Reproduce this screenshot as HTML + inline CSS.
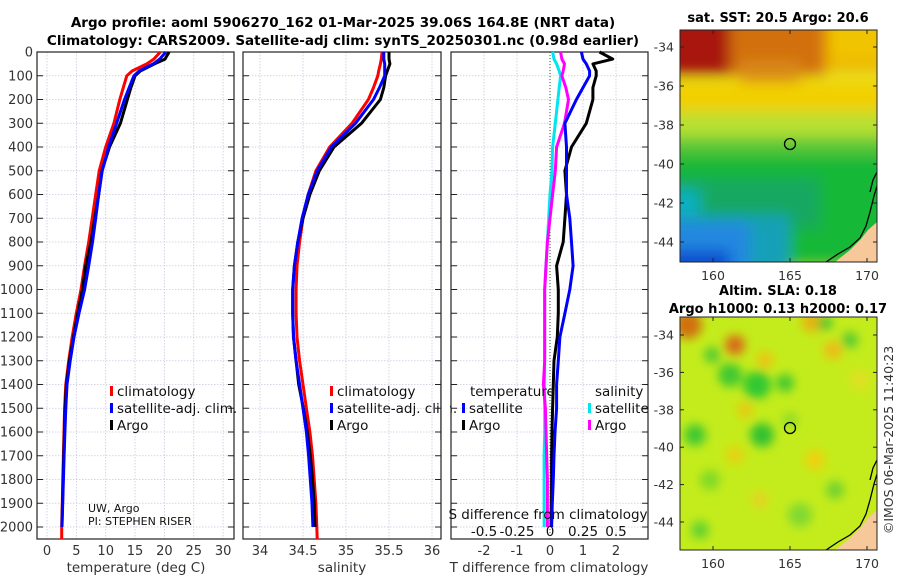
<!DOCTYPE html>
<html><head><meta charset="utf-8"><style>
body{margin:0;background:#fff;}
svg{display:block;font-family:"DejaVu Sans","Liberation Sans",sans-serif;}
</style></head><body>
<svg id="fig" width="900" height="580" viewBox="0 0 900 580">
<defs>
<filter id="blur1" x="-20%" y="-20%" width="140%" height="140%"><feGaussianBlur stdDeviation="7"/></filter>
<filter id="blur2" x="-20%" y="-20%" width="140%" height="140%"><feGaussianBlur stdDeviation="5"/></filter>
<clipPath id="clipM1"><rect x="680" y="30" width="197" height="232"/></clipPath>
<clipPath id="clipM2"><rect x="680" y="317" width="197" height="233"/></clipPath>
</defs>
<text x="343" y="27" text-anchor="middle" font-size="13.5" font-weight="bold">Argo profile: aoml 5906270_162 01-Mar-2025 39.06S 164.8E (NRT data)</text>
<text x="343" y="45" text-anchor="middle" font-size="13.5" font-weight="bold">Climatology: CARS2009. Satellite-adj clim: synTS_20250301.nc (0.98d earlier)</text>
<g id="panels"></g>

<!-- Map 1 -->
<g>
<text x="778" y="22" text-anchor="middle" font-size="13" font-weight="bold">sat. SST: 20.5 Argo: 20.6</text>
<g clip-path="url(#clipM1)">
<rect x="680" y="30" width="197" height="232" fill="#e8e020"/>
<g filter="url(#blur1)">
<rect x="660" y="10" width="240" height="60" fill="#eeb000"/>
<rect x="660" y="10" width="165" height="65" fill="#d27010"/>
<rect x="740" y="60" width="60" height="25" fill="#d88818"/>
<rect x="660" y="10" width="70" height="65" fill="#a81808"/>
<rect x="830" y="10" width="60" height="50" fill="#f0c400"/>
<rect x="660" y="82" width="240" height="30" fill="#f2d000"/>
<rect x="660" y="112" width="240" height="25" fill="#b8e030"/>
<rect x="660" y="137" width="240" height="20" fill="#58c838"/>
<rect x="660" y="155" width="240" height="110" fill="#18b838"/>
<rect x="660" y="178" width="160" height="50" fill="#14a860"/>
<rect x="660" y="190" width="40" height="40" fill="#10b0c0"/>
<rect x="660" y="215" width="130" height="60" fill="#18a0b8"/>
<rect x="660" y="222" width="90" height="50" fill="#2088e0"/>
<rect x="660" y="250" width="70" height="25" fill="#1050d0"/>
</g>
<polygon points="835,262 850,250 860,240 868,230 877,222 877,262" fill="#f7c89a"/>
<polyline points="826,262 838,254 850,247 860,238 866,226 870,212 874,196 877,186" fill="none" stroke="#000" stroke-width="1.3"/>
<polyline points="870,192 873,180 877,172" fill="none" stroke="#000" stroke-width="1.3"/>
<circle cx="790" cy="144" r="5.5" fill="none" stroke="#000" stroke-width="1.3"/>
</g>
<rect x="680" y="30" width="197" height="232" fill="none" stroke="#222" stroke-width="1"/>
<g id="m1ticks" font-size="12.5" fill="#333"></g>
</g>

<!-- Map 2 -->
<g>
<text x="778" y="295" text-anchor="middle" font-size="13" font-weight="bold">Altim. SLA: 0.18</text>
<text x="778" y="313" text-anchor="middle" font-size="13" font-weight="bold">Argo h1000: 0.13 h2000: 0.17</text>
<g clip-path="url(#clipM2)">
<rect x="680" y="317" width="197" height="233" fill="#c4ec1c"/>
<g filter="url(#blur2)">
<circle cx="688" cy="325" r="14" fill="#d07010"/>
<circle cx="735" cy="345" r="10" fill="#d86818"/>
<circle cx="812" cy="322" r="10" fill="#e8b010"/>
<circle cx="833" cy="350" r="9" fill="#f0b818"/>
<circle cx="765" cy="360" r="8" fill="#f0c010"/>
<circle cx="757" cy="385" r="14" fill="#30c830"/>
<circle cx="730" cy="375" r="12" fill="#40c830"/>
<circle cx="712" cy="355" r="8" fill="#50c830"/>
<circle cx="785" cy="383" r="9" fill="#40c830"/>
<circle cx="850" cy="340" r="8" fill="#50c830"/>
<circle cx="825" cy="323" r="7" fill="#40c030"/>
<circle cx="695" cy="435" r="11" fill="#40c830"/>
<circle cx="762" cy="435" r="12" fill="#30c030"/>
<circle cx="735" cy="455" r="9" fill="#e8d010"/>
<circle cx="745" cy="410" r="8" fill="#e8c810"/>
<circle cx="815" cy="460" r="10" fill="#f0d010"/>
<circle cx="760" cy="500" r="8" fill="#e8d020"/>
<circle cx="710" cy="480" r="10" fill="#80d828"/>
<circle cx="700" cy="530" r="9" fill="#60d030"/>
<circle cx="800" cy="515" r="12" fill="#80d830"/>
<circle cx="835" cy="490" r="9" fill="#70d030"/>
<circle cx="860" cy="380" r="10" fill="#e0e020"/>
<circle cx="790" cy="420" r="8" fill="#90dc28"/>
</g>
<polygon points="835,550 850,538 860,528 868,518 877,510 877,550" fill="#f7c89a"/>
<polyline points="826,550 838,542 850,535 860,526 866,514 870,500 874,484 877,474" fill="none" stroke="#000" stroke-width="1.3"/>
<polyline points="870,480 873,468 877,460" fill="none" stroke="#000" stroke-width="1.3"/>
<circle cx="790" cy="428" r="5.5" fill="none" stroke="#000" stroke-width="1.3"/>
</g>
<rect x="680" y="317" width="197" height="233" fill="none" stroke="#222" stroke-width="1"/>
<g id="m2ticks" font-size="12.5" fill="#333"></g>
</g>
<text transform="translate(893,440) rotate(-90)" text-anchor="middle" font-size="12.5" fill="#333">©IMOS 06-Mar-2025 11:40:23</text>
</svg>
<script>
// ---- data ----
const depths   = [0,30,50,80,100,150,200,300,400,500,600,700,800,900,1000,1100,1200,1300,1400,1500,1600,1700,1800,1900,2000];
const climT    = [19.3,18.2,17,14.5,13.6,13.0,12.4,11.4,10.0,8.9,8.3,7.7,7.1,6.4,5.8,5.0,4.3,3.7,3.2,3.0,2.9,2.8,2.7,2.6,2.5];
const climS    = [35.42,35.41,35.40,35.38,35.37,35.32,35.26,35.07,34.81,34.65,34.56,34.50,34.46,34.43,34.42,34.42,34.43,34.46,34.50,34.54,34.58,34.61,34.63,34.65,34.66];
const satTdiff = [0.95,1.0,1.1,1.2,1.2,1.0,0.8,0.45,0.5,0.5,0.5,0.6,0.65,0.7,0.6,0.45,0.3,0.25,0.2,0.2,0.15,0.12,0.1,0.07,0.05];
const argoTdiff= [1.5,1.9,1.3,1.4,1.4,1.3,1.3,1.1,0.65,0.45,0.5,0.45,0.4,0.2,0.25,0.25,0.22,0.12,0.1,0.08,0.06,0.05,0.05,0.04,0.03];
const satSdiff = [0.02,0.03,0.05,0.07,0.08,0.07,0.06,0.04,0.02,0.015,0.0,-0.01,-0.02,-0.03,-0.04,-0.04,-0.04,-0.04,-0.04,-0.04,-0.04,-0.045,-0.045,-0.045,-0.045];
const argoSdiff= [0.08,0.09,0.11,0.10,0.09,0.12,0.14,0.11,0.05,0.04,0.02,0.0,-0.02,-0.03,-0.04,-0.04,-0.04,-0.04,-0.05,-0.035,-0.03,-0.025,-0.02,-0.02,-0.02];
const depthTicks = [0,100,200,300,400,500,600,700,800,900,1000,1100,1200,1300,1400,1500,1600,1700,1800,1900,2000];
const tTicks = [0,5,10,15,20,25,30];
const sTicks = [34,34.5,35,35.5,36];
const sTickLabels = ["34","34.5","35","35.5","36"];
const dTTicks = [-2,-1,0,1,2];
const dSTicks = [-0.5,-0.25,0,0.25,0.5];
const dSTickLabels = ["-0.5","-0.25","0","0.25","0.5"];
const latTicks = [-34,-36,-38,-40,-42,-44];
const lonTicks = [160,165,170];

const NS='http://www.w3.org/2000/svg';
function mk(tag,attrs,parent){const e=document.createElementNS(NS,tag);for(const k in attrs)e.setAttribute(k,attrs[k]);if(parent)parent.appendChild(e);return e;}
const root=document.getElementById('panels');
const TOP=52,BOT=539;
const yD=d=>TOP+d*0.2375;
const xT=v=>47+v*5.87;
const xS=v=>260+(v-34)*86;
const xDT=v=>550+v*33;
const xDS=v=>550+v*132;
const panels=[[37,234],[243,441],[451,648]];

const argoT=climT.map((v,i)=>v+argoTdiff[i]);
const satT=climT.map((v,i)=>v+satTdiff[i]);
const argoS=climS.map((v,i)=>v+argoSdiff[i]);
const satS=climS.map((v,i)=>v+satSdiff[i]);

function grid(pi,xs,xf){
  const [x0,x1]=panels[pi];
  const g=mk('g',{},root);
  
  
  depthTicks.forEach(d=>{mk('line',{x1:x0,x2:x1,y1:yD(d),y2:yD(d),stroke:'#c8c8e0','stroke-width':0.8,'stroke-dasharray':'1.5,1.5'},g);
    mk('line',{x1:x0,x2:x0+6,y1:yD(d),y2:yD(d),stroke:'#222','stroke-width':1},g);
    mk('line',{x1:x1-6,x2:x1,y1:yD(d),y2:yD(d),stroke:'#222','stroke-width':1},g);});
  xs.forEach(v=>{const x=xf(v);mk('line',{x1:x,x2:x,y1:TOP,y2:BOT,stroke:'#c8c8e0','stroke-width':0.8,'stroke-dasharray':'1.5,1.5'},g);});
  const fr=mk('rect',{x:x0,y:TOP,width:x1-x0,height:BOT-TOP,fill:'none',stroke:'#222','stroke-width':1.2},root);
  
  
}
function line(vals,xf,color,name){
  const pts=vals.map((v,i)=>xf(v).toFixed(1)+','+yD(depths[i]).toFixed(1)).join(' ');
  const p=mk('polyline',{points:pts,fill:'none',stroke:color,'stroke-width':3,'stroke-linejoin':'round'},root);
  
  
  return p;
}
function txt(x,y,s,opts,name){
  const t=mk('text',Object.assign({x:x,y:y,'font-size':13,fill:'#333'},opts||{}),root);
  t.textContent=s;
  
  
  return t;
}
function legend(x,y,color,label,name){
  const r=mk('rect',{x:x,y:y-10,width:3,height:10,fill:color},root);
  
  
  txt(x+7,y,label,{'font-size':13.5,fill:'#111'},name);
}

// Panel 1
grid(0,tTicks,xT);
const lr1=line(climT,xT,'#ff0000','temperature-climatology-line');
lr1.setAttribute('points',lr1.getAttribute('points')+' '+xT(climT[climT.length-1]).toFixed(1)+','+BOT);
line(argoT,xT,'#000','temperature-argo-line');
line(satT,xT,'#0000ff','temperature-satellite-line');
depthTicks.forEach(d=>txt(33,yD(d)+4.5,String(d),{'text-anchor':'end'},'depth-tick-'+d));
tTicks.forEach(v=>txt(xT(v),555,String(v),{'text-anchor':'middle'},'temperature-tick-'+v));
txt(136,572,'temperature (deg C)',{'text-anchor':'middle','font-size':13.5},'temperature-axis-title');
legend(110,396,'#ff0000','climatology','legend-climatology-1');
legend(110,413,'#0000ff','satellite-adj. clim.','legend-satellite-1');
legend(110,430,'#000','Argo','legend-argo-1');
txt(88,512,'UW, Argo',{'font-size':11,fill:'#111'},'credit-line-1');
txt(88,525,'PI: STEPHEN RISER',{'font-size':11,fill:'#111'},'credit-line-2');

// Panel 2
grid(1,sTicks,xS);
const lr2=line(climS,xS,'#ff0000','salinity-climatology-line');
lr2.setAttribute('points',lr2.getAttribute('points')+' '+xS(climS[climS.length-1]+0.005).toFixed(1)+','+BOT);
line(argoS,xS,'#000','salinity-argo-line');
line(satS,xS,'#0000ff','salinity-satellite-line');
sTicks.forEach((v,i)=>txt(xS(v),555,sTickLabels[i],{'text-anchor':'middle'},'salinity-tick-'+i));
txt(342,572,'salinity',{'text-anchor':'middle','font-size':13.5},'salinity-axis-title');
legend(330,396,'#ff0000','climatology','legend-climatology-2');
legend(330,413,'#0000ff','satellite-adj. clim.','legend-satellite-2');
legend(330,430,'#000','Argo','legend-argo-2');
const cover=mk('rect',{x:441,y:380,width:9,height:60,fill:'#fff'},root);


mk('line',{x1:441,x2:441,y1:380,y2:440,stroke:'#222','stroke-width':1.2},root);

// Panel 3
grid(2,dTTicks,xDT);
const zl=mk('line',{x1:550,x2:550,y1:TOP,y2:BOT,stroke:'#335533','stroke-width':1,'stroke-dasharray':'1,2'},root);


line(satSdiff,xDS,'#00e5ee','salinity-satellite-diff-line');
line(argoSdiff,xDS,'#ff00ff','salinity-argo-diff-line');
line(argoTdiff,xDT,'#000','temperature-argo-diff-line');
line(satTdiff,xDT,'#0000ff','temperature-satellite-diff-line');
dTTicks.forEach(v=>txt(xDT(v),555,String(v),{'text-anchor':'middle'},'tdiff-tick-'+v));
txt(549,572,'T difference from climatology',{'text-anchor':'middle','font-size':13.5},'tdiff-axis-title');
txt(548,519,'S difference from climatology',{'text-anchor':'middle','font-size':13.5,fill:'#111'},'sdiff-axis-title');
dSTicks.forEach((v,i)=>txt(xDS(v),536,dSTickLabels[i],{'text-anchor':'middle','font-size':13.5,fill:'#111'},'sdiff-tick-'+i));
txt(470,396,'temperature',{'font-size':13.5,fill:'#111'},'legend-temperature-header');
legend(462,413,'#0000ff','satellite','legend-t-satellite');
legend(462,430,'#000','Argo','legend-t-argo');
txt(595,396,'salinity',{'font-size':13.5,fill:'#111'},'legend-salinity-header');
legend(588,413,'#00e5ee','satellite','legend-s-satellite');
legend(588,430,'#ff00ff','Argo','legend-s-argo');

// Map ticks
function mapTicks(gid,yTop,yBot,lat0y,dy,labY,pref){
  const g=document.getElementById(gid);
  latTicks.forEach(v=>{const y=lat0y+(-34-v)*dy;
    mk('line',{x1:680,x2:684,y1:y,y2:y,stroke:'#222'},g);mk('line',{x1:873,x2:877,y1:y,y2:y,stroke:'#222'},g);
    const t=mk('text',{x:674,y:y+4.5,'text-anchor':'end'},g);t.textContent=String(v);
    
    });
  lonTicks.forEach(v=>{const x=713+(v-160)*15.4;
    mk('line',{x1:x,x2:x,y1:yBot-4,y2:yBot,stroke:'#222'},g);mk('line',{x1:x,x2:x,y1:yTop,y2:yTop+4,stroke:'#222'},g);
    const t=mk('text',{x:x,y:labY,'text-anchor':'middle'},g);t.textContent=String(v);
    
    });
}
mapTicks('m1ticks',30,262,47,19.5,280,'sst-map');
mapTicks('m2ticks',317,550,335,18.7,568,'sla-map');
</script>
</body></html>
